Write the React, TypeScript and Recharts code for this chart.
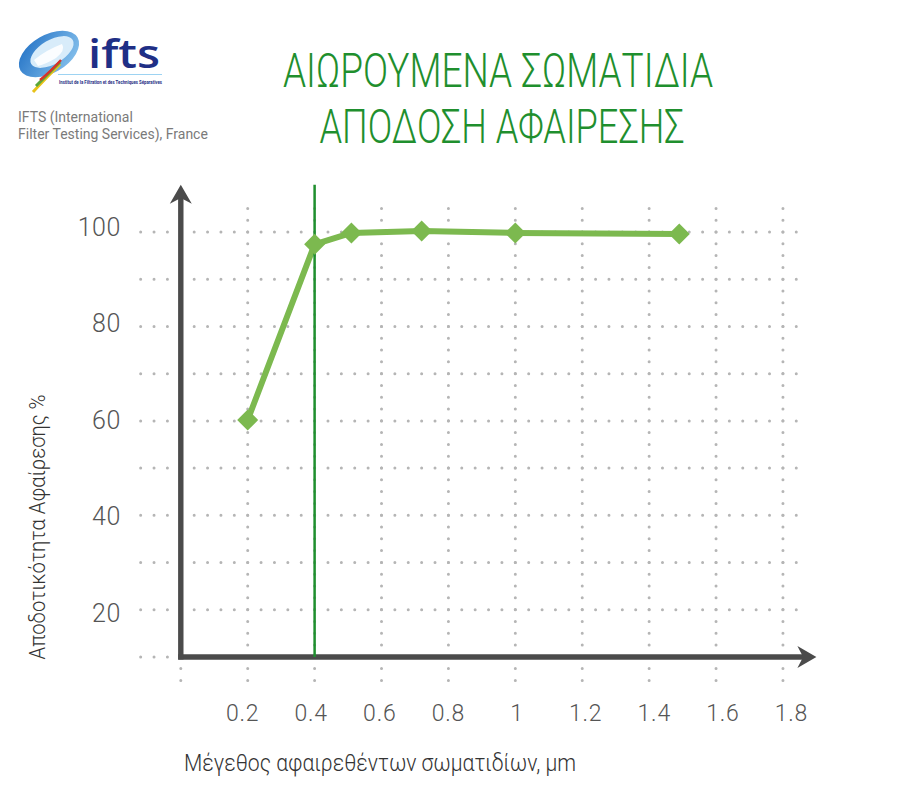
import React from 'react';
import { LineChart, Line, XAxis, YAxis, ReferenceLine } from 'recharts';

// particle size (µm) vs removal efficiency (%)
const sizes = [0.2, 0.4, 0.51, 0.72, 1.0, 1.49];
const efficiency = [60.2, 97.4, 99.8, 100.2, 99.8, 99.6];

const xTicks = [0.2, 0.4, 0.6, 0.8, 1, 1.2, 1.4, 1.6, 1.8];
const yTicks = [20, 40, 60, 80, 100];
const xGrid = [0, 0.2, 0.4, 0.6, 0.8, 1, 1.2, 1.4, 1.6, 1.8];
const yGrid = [10, 20, 30, 40, 50, 60, 70, 80, 90, 100];
const cutoffSize = 0.4;

const data = sizes.map((s, i) => ({ size: s, eff: efficiency[i] }));

const AXIS = '#4b4b4b';
const DOT = '#b5b5b5';
const LIGHT_GREEN = '#7cb94f';
const DARK_GREEN = '#1f8f2e';
const FONT = 'Roboto, "Noto Sans", sans-serif';

const ArrowLine = (props: any) => {
  const { x1, y1, x2, y2 } = props;
  const ang = Math.atan2(y2 - y1, x2 - x1);
  const dx = Math.cos(ang);
  const dy = Math.sin(ang);
  const L = 19;
  const W = 11;
  const bx = x2 - L * dx;
  const by = y2 - L * dy;
  const nx = x2 - L * 0.7 * dx;
  const ny = y2 - L * 0.7 * dy;
  const pts = [
    [x2, y2],
    [bx - W * dy, by + W * dx],
    [nx, ny],
    [bx + W * dy, by - W * dx],
  ]
    .map((p) => p.join(','))
    .join(' ');
  return (
    <g>
      <line
        x1={x1 - 2.6 * dx}
        y1={y1 - 2.6 * dy}
        x2={nx + 2 * dx}
        y2={ny + 2 * dy}
        stroke={AXIS}
        strokeWidth={5.4}
      />
      <polygon points={pts} fill={AXIS} />
    </g>
  );
};

const dotted = (gap: number) => (props: any) => (
  <line
    x1={props.x1}
    y1={props.y1}
    x2={props.x2}
    y2={props.y2}
    stroke={DOT}
    strokeWidth={3}
    strokeLinecap="round"
    strokeDasharray={`0 ${gap}`}
  />
);

const Diamond = (props: any) => {
  const { cx, cy, index } = props;
  if (cx == null || cy == null) return null;
  const r = 10.5;
  return (
    <polygon
      key={`dia-${index}`}
      points={`${cx},${cy - r} ${cx + r},${cy} ${cx},${cy + r} ${cx - r},${cy}`}
      fill={LIGHT_GREEN}
    />
  );
};

// labels in the source drift slightly wider than the grid spacing
const XTick = (props: any) => {
  const v = props.payload.value;
  return (
    <text
      x={props.x + (v - 0.8) * 8.5}
      y={props.y + 64}
      textAnchor="middle"
      fontSize={23}
      fontFamily={FONT}
      fontWeight={300}
      letterSpacing={0.8}
      fill="#555"
    >
      {v}
    </text>
  );
};

const YTick = (props: any) => {
  const v = props.payload.value;
  return (
    <text
      x={props.x - 60}
      y={props.y - (v - 50) * 0.1}
      dy="0.36em"
      textAnchor="end"
      fontSize={25}
      fontFamily={FONT}
      fontWeight={300}
      letterSpacing={0.5}
      fill="#555"
    >
      {v}
    </text>
  );
};

const Overlay = () => (
  <svg
    width={900}
    height={810}
    style={{ position: 'absolute', left: 0, top: 0, pointerEvents: 'none' }}
  >
    <defs>
      <linearGradient id="logoBlue" x1="0" y1="0" x2="1" y2="1">
        <stop offset="0%" stopColor="#1f6fc4" />
        <stop offset="100%" stopColor="#8fc8f0" />
      </linearGradient>
    </defs>
    {/* logo */}
    <ellipse cx={49} cy={54} rx={33} ry={19} transform="rotate(-30 49 54)" fill="url(#logoBlue)" />
    <ellipse cx={52} cy={52} rx={24} ry={12} transform="rotate(-30 52 52)" fill="#d8ecfa" />
    <path d="M34 60 Q46 50 62 44 Q66 50 56 58 Q46 64 38 66 Z" fill="#ffffff" opacity={0.9} />
    <path d="M33 92 Q44 80 60 64" stroke="#e8c21a" strokeWidth={3} fill="none" />
    <path d="M36 86 Q46 76 60 62" stroke="#5aa73a" strokeWidth={3} fill="none" />
    <path d="M40 80 Q50 72 61 60" stroke="#d8312b" strokeWidth={2.5} fill="none" />
    <text x={88} y={68} fontSize={40} fontFamily='"Open Sans", sans-serif' fontWeight={600} fill="#1f2f86" textLength={72} lengthAdjust="spacingAndGlyphs">
      ifts
    </text>
    <line x1={58} y1={74.5} x2={162} y2={74.5} stroke="#9dd3f2" strokeWidth={1} />
    <text x={59} y={84} fontSize={4.6} fontFamily={FONT} fontWeight={700} fill="#1f2f86" textLength={103} lengthAdjust="spacingAndGlyphs">
      Institut de la Filtration et des Techniques Séparatives
    </text>
    <text x={18} y={122} fontSize={14} fontFamily={FONT} fill="#7a7a7a">
      IFTS (International
    </text>
    <text x={18} y={139} fontSize={14} fontFamily={FONT} fill="#7a7a7a">
      Filter Testing Services), France
    </text>

    {/* title */}
    <text x={498} y={87} textAnchor="middle" fontSize={49} fontFamily={FONT} fontWeight={300} fill={DARK_GREEN} textLength={430} lengthAdjust="spacingAndGlyphs">
      ΑΙΩΡΟΥΜΕΝΑ ΣΩΜΑΤΙΔΙΑ
    </text>
    <text x={502} y={143} textAnchor="middle" fontSize={49} fontFamily={FONT} fontWeight={300} fill={DARK_GREEN} textLength={365} lengthAdjust="spacingAndGlyphs">
      ΑΠΟΔΟΣΗ ΑΦΑΙΡΕΣΗΣ
    </text>

    {/* axis titles */}
    <text transform="translate(45 527) rotate(-90)" textAnchor="middle" fontSize={22} fontFamily={FONT} fontWeight={300} fill="#333" textLength={265} lengthAdjust="spacingAndGlyphs">
      Αποδοτικότητα Αφαίρεσης %
    </text>
    <text x={380} y={771} textAnchor="middle" fontSize={24} fontFamily={FONT} fontWeight={300} fill="#333" textLength={392} lengthAdjust="spacingAndGlyphs">
      Μέγεθος αφαιρεθέντων σωματιδίων, μm
    </text>
  </svg>
);

export default function App() {
  return (
    <div style={{ position: 'absolute', left: 0, top: 0, width: 900, height: 810, background: '#fff' }}>
      <LineChart
        width={900}
        height={810}
        data={data}
        margin={{ top: 184.8, right: 83.6, left: 179.8, bottom: 152 }}
        style={{ position: 'absolute', left: 0, top: 0 }}
      >
        <XAxis
          dataKey="size"
          type="number"
          domain={[0, 1.9]}
          ticks={xTicks}
          height={1}
          axisLine={false}
          tickLine={false}
          tickSize={0}
          tickMargin={0}
          interval={0}
          allowDataOverflow
          tick={<XTick />}
        />
        <YAxis
          type="number"
          domain={[10, 110]}
          ticks={yTicks}
          width={1}
          axisLine={false}
          tickLine={false}
          tickSize={0}
          tickMargin={0}
          interval={0}
          allowDataOverflow
          tick={<YTick />}
        />

        {xGrid.map((v) => (
          <ReferenceLine
            key={`gx-${v}`}
            segment={[{ x: v, y: 105 }, { x: v, y: 5 }]}
            ifOverflow="visible"
            shape={dotted(11.8)}
          />
        ))}
        {yGrid.map((v) => (
          <ReferenceLine
            key={`gy-${v}`}
            segment={[{ x: -0.12, y: v }, { x: 1.84, y: v }]}
            ifOverflow="visible"
            shape={dotted(13.38)}
          />
        ))}

        <ReferenceLine segment={[{ x: 0, y: 10 }, { x: 1.9, y: 10 }]} ifOverflow="visible" shape={<ArrowLine />} />
        <ReferenceLine segment={[{ x: 0, y: 10 }, { x: 0, y: 110 }]} ifOverflow="visible" shape={<ArrowLine />} />

        <Line
          dataKey="eff"
          stroke={LIGHT_GREEN}
          strokeWidth={6}
          strokeLinejoin="round"
          dot={Diamond}
          activeDot={false}
          isAnimationActive={false}
        />

        <ReferenceLine
          segment={[{ x: cutoffSize, y: 10 }, { x: cutoffSize, y: 110 }]}
          ifOverflow="visible"
          stroke={DARK_GREEN}
          strokeWidth={2.5}
        />
      </LineChart>
      <Overlay />
    </div>
  );
}
